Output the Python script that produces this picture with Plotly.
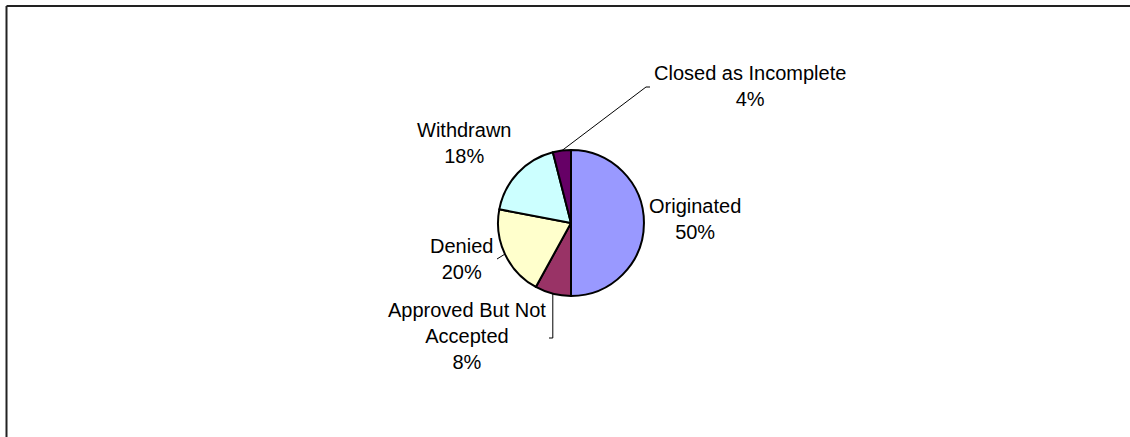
import numpy as np
import plotly.graph_objects as go

# Loan application outcomes (share of applications, %)
categories = ["Originated", "Approved But Not Accepted", "Denied", "Withdrawn", "Closed as Incomplete"]
shares = [50, 8, 20, 18, 4]
colors = ["#9999FF", "#993366", "#FFFFCC", "#CCFFFF", "#660066"]
label_lines = [["Originated"], ["Approved But Not", "Accepted"], ["Denied"], ["Withdrawn"], ["Closed as Incomplete"]]

W, H = 1130, 437
CX, CY, R = 571, 223, 73  # pie centre and radius in pixels
FONT = dict(family="Liberation Sans, Arial, sans-serif", size=20, color="black")

fig = go.Figure()
fig.add_trace(go.Pie(
    labels=categories,
    values=shares,
    sort=False,
    direction="clockwise",
    rotation=0,
    marker=dict(colors=colors, line=dict(color="black", width=2)),
    textinfo="none",
    hoverinfo="label+percent",
    showlegend=False,
    domain=dict(x=[(CX - R) / W, (CX + R) / W], y=[(H - CY - R) / H, (H - CY + R) / H]),
))

# label placement (text centre, px) per slice
label_pos = {
    "Originated": (695, 219),
    "Approved But Not Accepted": (467, 336),
    "Denied": (461, 259),
    "Withdrawn": (464, 143),
    "Closed as Incomplete": (750, 86),
}

vals = np.array(shares, dtype=float)
pct = vals / vals.sum()
mid_deg = (np.cumsum(pct) - pct / 2) * 360.0  # clockwise from 12 o'clock


def edge_point(deg):
    a = np.deg2rad(deg)
    return CX + R * np.sin(a), CY - R * np.cos(a)


for cat, lines, p in zip(categories, label_lines, pct):
    x, y = label_pos[cat]
    text = "<br>".join(lines + [f"{round(p * 100):.0f}%"])
    fig.add_annotation(x=x, y=y, xref="x", yref="y", text=text, showarrow=False,
                       font=FONT, xanchor="center", yanchor="middle", align="center")

# leader lines from slice edges to their labels
leader_ends = {
    "Approved But Not Accepted": [("v", 338), ("h", 549)],
    "Denied": [("pt", (497, 259))],
    "Closed as Incomplete": [("pt", (646, 87)), ("h", 650)],
}
for cat, deg in zip(categories, mid_deg):
    if cat not in leader_ends:
        continue
    x0, y0 = edge_point(deg)
    pts = [(x0, y0)]
    for kind, v in leader_ends[cat]:
        lx, ly = pts[-1]
        if kind == "v":
            pts.append((lx, v))
        elif kind == "h":
            pts.append((v, ly))
        else:
            pts.append(v)
    path = "M " + " L ".join(f"{px:.1f},{py:.1f}" for px, py in pts)
    fig.add_shape(type="path", path=path, xref="x", yref="y",
                  line=dict(color="black", width=1))

# chart frame (top and left edges)
fig.add_shape(type="line", xref="x", yref="y", x0=6.5, y0=6, x1=W, y1=6,
              line=dict(color="#222222", width=2))
fig.add_shape(type="line", xref="x", yref="y", x0=6.5, y0=6, x1=6.5, y1=H,
              line=dict(color="#222222", width=2))

fig.update_layout(
    width=W, height=H,
    margin=dict(l=0, r=0, t=0, b=0),
    paper_bgcolor="white", plot_bgcolor="white",
    xaxis=dict(range=[0, W], visible=False, fixedrange=True),
    yaxis=dict(range=[H, 0], visible=False, fixedrange=True),
    font=FONT,
)

fig.write_html("out.html")
